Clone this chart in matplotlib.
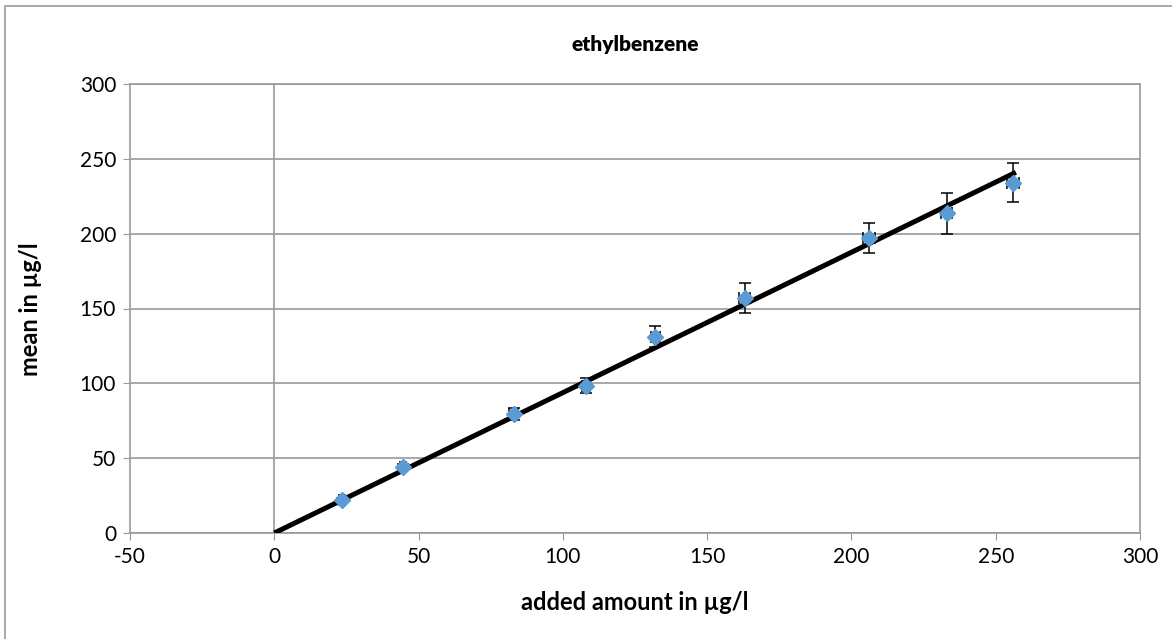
import matplotlib
matplotlib.use("Agg")
import matplotlib.pyplot as plt
from matplotlib.patches import Rectangle

plt.rcParams.update({
    "font.family": ["Lato", "DejaVu Sans"],
    "font.size": 15,
    "axes.unicode_minus": False,
})

# measured recovery data
added = [23.5, 44.5, 83, 108, 132, 163, 206, 233, 256]
mean = [22, 44, 79.5, 98.5, 131, 157, 197, 213.5, 234]
y_err = [1.5, 2, 4, 5, 7, 10, 10, 14, 13]
x_err = [1, 1, 1.5, 1.5, 1.5, 2, 2, 2, 2]

# regression line through the origin
fit_x = [0, 257]
fit_y = [0, 241]

fig = plt.figure(figsize=(11.72, 6.39), dpi=100)
ax = fig.add_axes([130 / 1172, 1 - 533 / 639, 1010 / 1172, 449 / 639])

# chart area border
fig.patches.append(Rectangle((5 / 1172, -0.1), 1.2, 1 - 6 / 639 + 0.1,
                             transform=fig.transFigure, fill=False,
                             edgecolor="#999999", linewidth=1.2))

ax.set_xlim(-50, 300)
ax.set_ylim(0, 300)
ax.set_xticks(range(-50, 301, 50))
ax.set_yticks(range(0, 301, 50))

ax.grid(axis="y", color="#999999", linewidth=1.2)
ax.axvline(0, color="#999999", linewidth=1.2, zorder=1)
ax.set_axisbelow(True)
for s in ax.spines.values():
    s.set_color("#999999")
    s.set_linewidth(1.2)
ax.tick_params(direction="out", length=5, color="#999999", labelsize=15, pad=5)

ax.plot(fit_x, fit_y, color="black", linewidth=3.6, solid_capstyle="butt", zorder=3)
ax.errorbar(added, mean, yerr=y_err, xerr=x_err, fmt="none",
            ecolor="black", elinewidth=1.1, capsize=4, capthick=1.1, zorder=4)
ax.plot(added, mean, linestyle="none", marker="D", markersize=8.5,
        color="#5B9BD5", zorder=5)

fig.text(635 / 1172, 1 - 44 / 639, "ethylbenzene", ha="center", va="center",
         fontsize=15, fontweight="heavy")
fig.text(635 / 1172, 1 - 602 / 639, "added amount in µg/l", ha="center", va="center",
         fontsize=17, fontweight="bold")
fig.text(30 / 1172, 1 - 309 / 639, "mean in µg/l", ha="center", va="center",
         rotation=90, fontsize=17, fontweight="bold")

fig.savefig("out.png", dpi=100)
